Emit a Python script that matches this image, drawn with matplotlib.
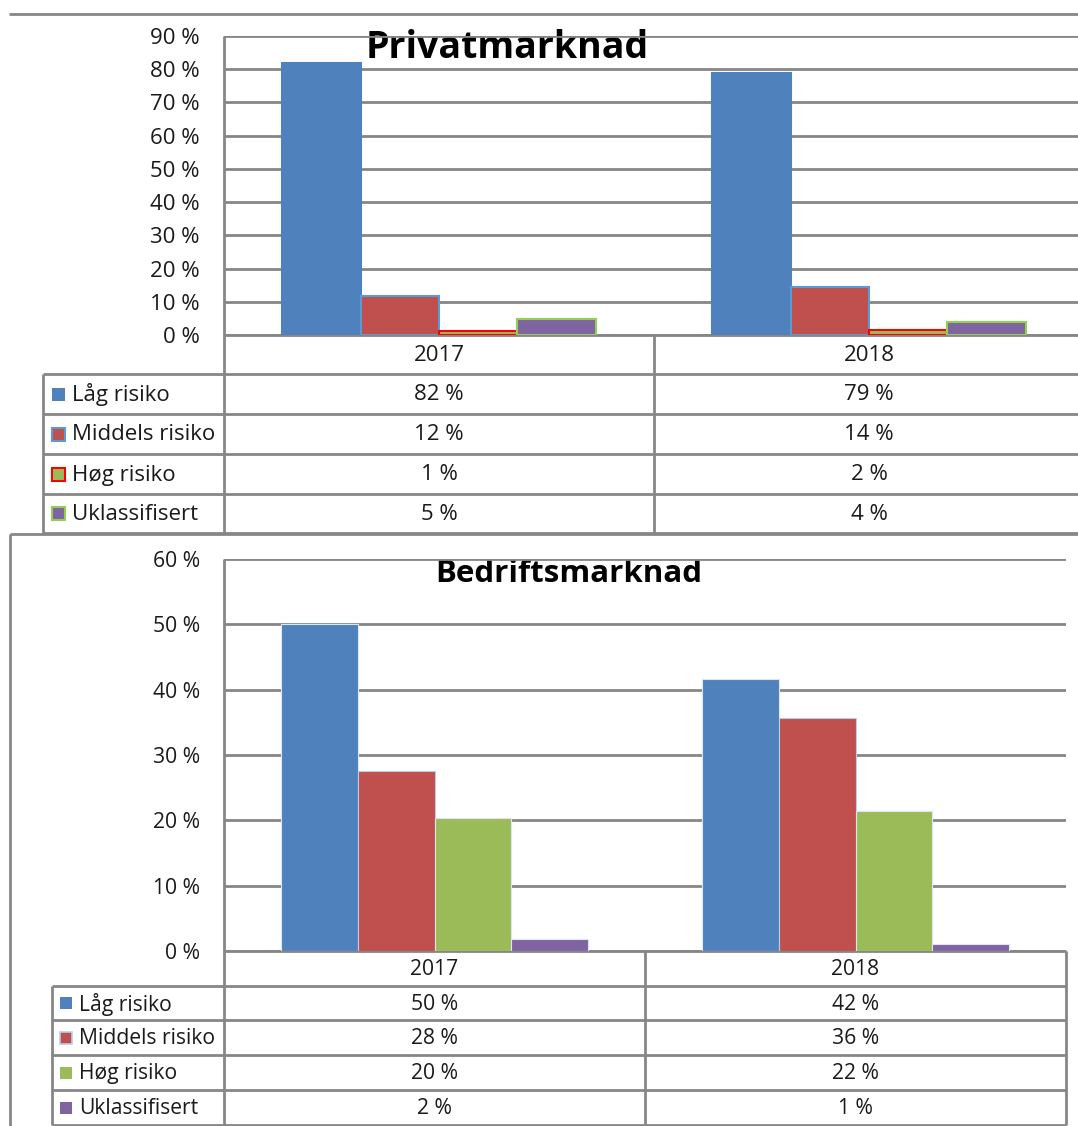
import numpy as np
import matplotlib
matplotlib.use("Agg")
import matplotlib.pyplot as plt
import matplotlib.transforms as mtrans

plt.rcParams['font.family'] = ['Open Sans', 'DejaVu Sans']

# data
years = ['2017', '2018']
series = ['Låg risiko', 'Middels risiko', 'Høg risiko', 'Uklassifisert']
colors = ['#4f81bd', '#c0504d', '#9bbb59', '#8064a2']

priv_vals = [[82, 79], [11.8, 14.4], [1.2, 1.6], [4.8, 3.9]]
priv_text = [['82 %', '79 %'], ['12 %', '14 %'], ['1 %', '2 %'], ['5 %', '4 %']]
priv_edges = ['#4f81bd', '#5b9bd5', '#ff0000', '#92d050']

bed_vals = [[50, 41.7], [27.5, 35.7], [20.3, 21.5], [1.9, 1.1]]
bed_text = [['50 %', '42 %'], ['28 %', '36 %'], ['20 %', '22 %'], ['2 %', '1 %']]
bed_edges = ['#dce6f2', '#b9cde5', '#dce6f2', '#dce6f2']

W, H = 1078, 1126
fig = plt.figure(figsize=(W / 100, H / 100), dpi=100)
bg = fig.add_axes([0, 0, 1, 1], zorder=0)
bg.set_xlim(0, W)
bg.set_ylim(H, 0)
bg.axis('off')

GRAY = '#868686'
TXT = '#1a1a1a'
LW = 2.0


def px_axes(x0, x1, y0, y1):
    return fig.add_axes([x0 / W, 1 - y1 / H, (x1 - x0) / W, (y1 - y0) / H], zorder=2)


def hline(y, x0, x1):
    bg.plot([x0, x1], [y, y], color=GRAY, lw=LW, solid_capstyle='butt')


def vline(x, y0, y1):
    bg.plot([x, x], [y0, y1], color=GRAY, lw=LW, solid_capstyle='butt')


def panel(vals, texts, edges, edge_lw, ymax, step, left, right, top, zero,
          rows, leg_left, mid, title, tsize, tx, ty, fsize, key_x, key_size, key_edges, key_lw):
    ax = px_axes(left, right, top, zero)
    ax.patch.set_alpha(0)
    x = np.arange(len(years))
    w = 0.182
    for i, s in enumerate(series):
        ax.bar(x + (i - 1.5) * w, vals[i], w, color=colors[i], edgecolor=edges[i],
               linewidth=edge_lw, zorder=3)
    ax.set_xlim(-0.5, 1.5)
    ax.set_ylim(0, ymax)
    ticks = np.arange(0, ymax + 1, step)
    ax.set_yticks(ticks)
    ax.set_yticklabels(['%d %%' % t for t in ticks], fontsize=fsize, color=TXT)
    ax.yaxis.grid(True, color=GRAY, lw=LW, zorder=1)
    ax.set_axisbelow(True)
    ax.tick_params(left=False, bottom=False, labelbottom=False, pad=14)
    for sp in ax.spines.values():
        sp.set_visible(False)
    bg.text(tx, ty, title, ha='center', va='center', fontsize=tsize,
            fontweight='bold', color='black', zorder=5)

    # data table under the chart
    tr = mtrans.blended_transform_factory(ax.transData, bg.transData)
    hline(zero, left, right)
    for y in rows:
        hline(y, leg_left, right)
    vline(left, top, rows[-1])
    vline(mid, zero, rows[-1])
    vline(leg_left, rows[0], rows[-1])
    if right < W:
        vline(right, zero, rows[-1])
    ax_y = (zero + rows[0]) / 2 + 1
    for j, yr in enumerate(years):
        bg.text(x[j], ax_y, yr, transform=tr, ha='center', va='center',
                fontsize=fsize, color=TXT)
    for i, s in enumerate(series):
        yc = (rows[i] + rows[i + 1]) / 2
        for j in range(len(years)):
            bg.text(x[j], yc + 1, texts[i][j], transform=tr, ha='center', va='center',
                    fontsize=fsize, color=TXT)
        bg.add_patch(plt.Rectangle((key_x, yc - key_size / 2), key_size, key_size,
                                   facecolor=colors[i], edgecolor=key_edges[i],
                                   lw=key_lw[i], zorder=3))
        bg.text(key_x + key_size + 7, yc + 1, s, ha='left', va='center',
                fontsize=fsize, color=TXT)
    return ax


# frame lines
hline(14, 9, W)
hline(534, 10, W)
vline(10, 534, H)

panel(priv_vals, priv_text, priv_edges, 1.5, 90, 10,
      224, 1084, 36, 335, [374, 414, 454, 494, 533], 43, 654,
      'Privatmarknad', 27, 507, 48, 16,
      52, 13, ['#4f81bd', '#5b9bd5', '#ff0000', '#92d050'], [0, 1.5, 1.5, 1.5])

panel(bed_vals, bed_text, bed_edges, 0.8, 60, 10,
      224, 1066, 559, 951, [986, 1020, 1055, 1090, 1125], 52, 645,
      'Bedriftsmarknad', 22.5, 569, 574, 15.2,
      60, 12, ['#4f81bd', '#b9cde5', '#9bbb59', '#8064a2'], [0, 1.2, 0, 0])

fig.savefig('out.png', dpi=100, facecolor='white')
